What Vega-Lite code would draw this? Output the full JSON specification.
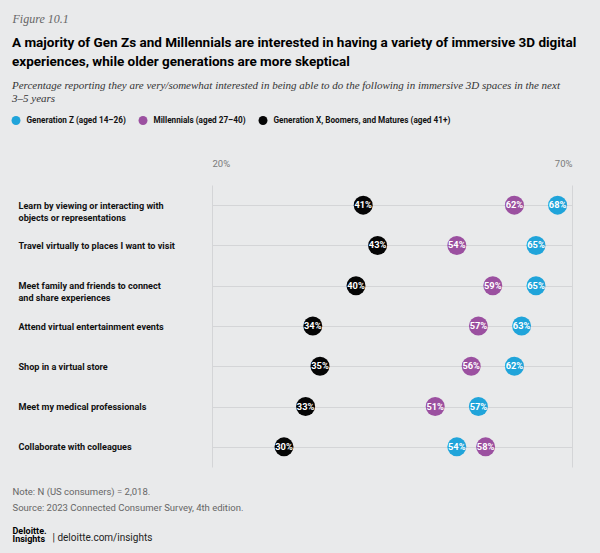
{
  "$schema": "https://vega.github.io/schema/vega-lite/v6.json",
  "width": 360,
  "height": 282,
  "autosize": {"type": "none"},
  "padding": {"left": 212, "top": 185, "right": 28, "bottom": 86},
  "background": "#e9eaeb",
  "config": {
    "view": {"stroke": null},
    "font": "Roboto"
  },
  "title": {
    "text": [
      "A majority of Gen Zs and Millennials are interested in having a variety of immersive 3D digital",
      "experiences, while older generations are more skeptical"
    ],
    "subtitle": [
      "Percentage reporting they are very/somewhat interested in being able to do the following in immersive 3D spaces in the next",
      "3–5 years"
    ],
    "anchor": "start",
    "frame": "group",
    "dx": -200,
    "dy": 96,
    "font": "Roboto",
    "fontSize": 13.5,
    "fontWeight": "bold",
    "color": "#000000",
    "lineHeight": 18.5,
    "subtitleFont": "Liberation Serif",
    "subtitleFontStyle": "italic",
    "subtitleFontSize": 11,
    "subtitleColor": "#333333",
    "subtitleLineHeight": 13,
    "subtitlePadding": 12
  },
  "data": {
    "values": [
      {"activity": "Learn by viewing or interacting with objects or representations", "generation": "Generation Z (aged 14–26)", "share": 0.68},
      {"activity": "Learn by viewing or interacting with objects or representations", "generation": "Millennials (aged 27–40)", "share": 0.62},
      {"activity": "Learn by viewing or interacting with objects or representations", "generation": "Generation X, Boomers, and Matures (aged 41+)", "share": 0.41},
      {"activity": "Travel virtually to places I want to visit", "generation": "Generation Z (aged 14–26)", "share": 0.65},
      {"activity": "Travel virtually to places I want to visit", "generation": "Millennials (aged 27–40)", "share": 0.54},
      {"activity": "Travel virtually to places I want to visit", "generation": "Generation X, Boomers, and Matures (aged 41+)", "share": 0.43},
      {"activity": "Meet family and friends to connect and share experiences", "generation": "Generation Z (aged 14–26)", "share": 0.65},
      {"activity": "Meet family and friends to connect and share experiences", "generation": "Millennials (aged 27–40)", "share": 0.59},
      {"activity": "Meet family and friends to connect and share experiences", "generation": "Generation X, Boomers, and Matures (aged 41+)", "share": 0.40},
      {"activity": "Attend virtual entertainment events", "generation": "Generation Z (aged 14–26)", "share": 0.63},
      {"activity": "Attend virtual entertainment events", "generation": "Millennials (aged 27–40)", "share": 0.57},
      {"activity": "Attend virtual entertainment events", "generation": "Generation X, Boomers, and Matures (aged 41+)", "share": 0.34},
      {"activity": "Shop in a virtual store", "generation": "Generation Z (aged 14–26)", "share": 0.62},
      {"activity": "Shop in a virtual store", "generation": "Millennials (aged 27–40)", "share": 0.56},
      {"activity": "Shop in a virtual store", "generation": "Generation X, Boomers, and Matures (aged 41+)", "share": 0.35},
      {"activity": "Meet my medical professionals", "generation": "Generation Z (aged 14–26)", "share": 0.57},
      {"activity": "Meet my medical professionals", "generation": "Millennials (aged 27–40)", "share": 0.51},
      {"activity": "Meet my medical professionals", "generation": "Generation X, Boomers, and Matures (aged 41+)", "share": 0.33},
      {"activity": "Collaborate with colleagues", "generation": "Generation Z (aged 14–26)", "share": 0.54},
      {"activity": "Collaborate with colleagues", "generation": "Millennials (aged 27–40)", "share": 0.58},
      {"activity": "Collaborate with colleagues", "generation": "Generation X, Boomers, and Matures (aged 41+)", "share": 0.30}
    ]
  },
  "layer": [
    {
      "mark": {"type": "circle", "size": 360, "opacity": 1},
      "encoding": {
        "x": {
          "field": "share",
          "type": "quantitative",
          "scale": {"domain": [0.2, 0.7], "zero": false, "nice": false},
          "axis": {
            "orient": "top",
            "values": [0.2, 0.7],
            "format": ".0%",
            "domain": false,
            "ticks": false,
            "tickSize": 0,
            "labelPadding": 17,
            "labelFont": "Roboto",
            "labelFontSize": 9.5,
            "labelColor": "#7a7a7a",
            "grid": true,
            "gridColor": "#d4d5d7",
            "gridWidth": 1,
            "title": "Figure 10.1",
            "titleX": -200,
            "titleY": -167,
            "titleAlign": "left",
            "titleBaseline": "middle",
            "titleAngle": 0,
            "titleFont": "Liberation Serif",
            "titleFontStyle": "italic",
            "titleFontWeight": "normal",
            "titleFontSize": 12,
            "titleColor": "#666666"
          }
        },
        "y": {
          "field": "activity",
          "type": "nominal",
          "sort": null,
          "scale": {"type": "point", "padding": 0.5},
          "axis": {
            "orient": "left",
            "domain": false,
            "ticks": false,
            "tickSize": 0,
            "labelPadding": 194,
            "labelAlign": "left",
            "labelBaseline": "middle",
            "labelLimit": 220,
            "labelFont": "Roboto",
            "labelFontSize": 9.1,
            "labelFontWeight": "bold",
            "labelColor": "#111111",
            "labelLineHeight": 12,
            "labelExpr": "datum.value == 'Learn by viewing or interacting with objects or representations' ? ['Learn by viewing or interacting with', 'objects or representations'] : datum.value == 'Meet family and friends to connect and share experiences' ? ['Meet family and friends to connect', 'and share experiences'] : datum.value",
            "grid": true,
            "gridColor": "#d4d5d7",
            "gridWidth": 1,
            "title": [
              "Note: N (US consumers) = 2,018.",
              "Source: 2023 Connected Consumer Survey, 4th edition."
            ],
            "titleAngle": 0,
            "titleX": -200,
            "titleY": 301,
            "titleAlign": "left",
            "titleBaseline": "top",
            "titleFont": "Roboto",
            "titleFontWeight": "normal",
            "titleFontSize": 9.5,
            "titleLineHeight": 16,
            "titleColor": "#666666"
          }
        },
        "color": {
          "field": "generation",
          "type": "nominal",
          "scale": {
            "domain": ["Generation Z (aged 14–26)", "Millennials (aged 27–40)", "Generation X, Boomers, and Matures (aged 41+)"],
            "range": ["#20a4da", "#9b50a0", "#050505"]
          },
          "legend": {
            "orient": "none",
            "legendX": -200.5,
            "legendY": -69,
            "direction": "horizontal",
            "columns": 3,
            "title": null,
            "symbolType": "circle",
            "symbolSize": 80,
            "symbolStrokeWidth": 0,
            "labelOffset": 6,
            "columnPadding": 12,
            "labelLimit": 300,
            "labelFont": "Roboto",
            "labelFontSize": 8.2,
            "labelFontWeight": "bold",
            "labelColor": "#111111"
          }
        }
      }
    },
    {
      "mark": {"type": "text", "color": "#ffffff", "font": "Roboto", "fontSize": 9.3, "fontWeight": "bold", "baseline": "middle", "align": "center"},
      "encoding": {
        "x": {
          "field": "share",
          "type": "quantitative",
          "scale": {"domain": [0.2, 0.7], "zero": false, "nice": false},
          "axis": {
            "orient": "bottom",
            "labels": false,
            "ticks": false,
            "domain": false,
            "grid": false,
            "title": ["Deloitte.", "Insights"],
            "titleX": -200,
            "titleY": 59,
            "titleAlign": "left",
            "titleBaseline": "top",
            "titleAngle": 0,
            "titleFont": "Roboto",
            "titleFontWeight": "bold",
            "titleFontSize": 9,
            "titleLineHeight": 8.5,
            "titleColor": "#000000"
          }
        },
        "y": {
          "field": "activity",
          "type": "nominal",
          "sort": null,
          "scale": {"type": "point", "padding": 0.5},
          "axis": {
            "orient": "right",
            "labels": false,
            "ticks": false,
            "domain": false,
            "grid": false,
            "title": "|  deloitte.com/insights",
            "titleX": -520,
            "titleY": 352,
            "titleAlign": "left",
            "titleBaseline": "middle",
            "titleAngle": 0,
            "titleFont": "Roboto",
            "titleFontWeight": "normal",
            "titleFontSize": 10,
            "titleColor": "#222222"
          }
        },
        "text": {"field": "share", "type": "quantitative", "format": ".0%"}
      }
    }
  ],
  "resolve": {
    "scale": {"x": "independent", "y": "independent"},
    "axis": {"x": "independent", "y": "independent"}
  }
}
